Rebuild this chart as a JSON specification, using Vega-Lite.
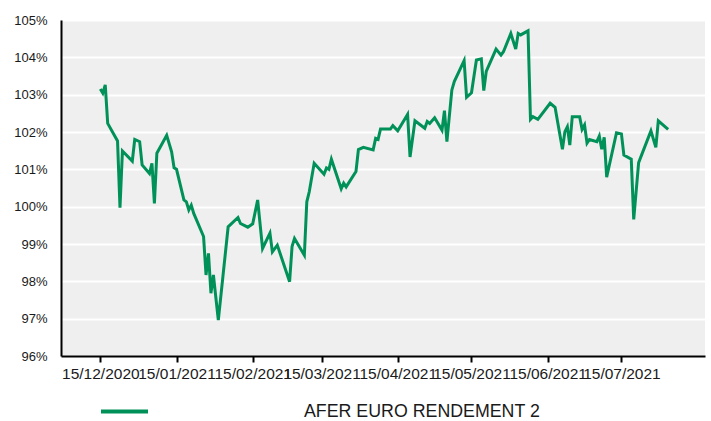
{
  "$schema": "https://vega.github.io/schema/vega-lite/v6.json",
  "autosize": {"type": "none"},
  "padding": {"left": 61, "top": 20, "right": 6, "bottom": 65},
  "width": 644,
  "height": 336,
  "background": "white",
  "config": {
    "view": {"fill": "#EFEFEF", "stroke": null},
    "font": "Liberation Sans"
  },
  "data": {
    "values": [
      {"date": "2020-12-15", "value": 103.15},
      {"date": "2020-12-16", "value": 103.04},
      {"date": "2020-12-17", "value": 103.26},
      {"date": "2020-12-18", "value": 102.23},
      {"date": "2020-12-22", "value": 101.76},
      {"date": "2020-12-23", "value": 99.97},
      {"date": "2020-12-24", "value": 101.49},
      {"date": "2020-12-28", "value": 101.22},
      {"date": "2020-12-29", "value": 101.80},
      {"date": "2020-12-31", "value": 101.74},
      {"date": "2021-01-01", "value": 101.12},
      {"date": "2021-01-04", "value": 100.89},
      {"date": "2021-01-05", "value": 101.16},
      {"date": "2021-01-06", "value": 100.09},
      {"date": "2021-01-07", "value": 101.43},
      {"date": "2021-01-11", "value": 101.91},
      {"date": "2021-01-13", "value": 101.47},
      {"date": "2021-01-14", "value": 101.04},
      {"date": "2021-01-15", "value": 101.00},
      {"date": "2021-01-18", "value": 100.18},
      {"date": "2021-01-19", "value": 100.13},
      {"date": "2021-01-20", "value": 99.91},
      {"date": "2021-01-21", "value": 100.04},
      {"date": "2021-01-22", "value": 99.82},
      {"date": "2021-01-26", "value": 99.20},
      {"date": "2021-01-27", "value": 98.17},
      {"date": "2021-01-28", "value": 98.75},
      {"date": "2021-01-29", "value": 97.68},
      {"date": "2021-01-30", "value": 98.17},
      {"date": "2021-02-01", "value": 96.96},
      {"date": "2021-02-05", "value": 99.46},
      {"date": "2021-02-09", "value": 99.71},
      {"date": "2021-02-10", "value": 99.55},
      {"date": "2021-02-13", "value": 99.45},
      {"date": "2021-02-15", "value": 99.54},
      {"date": "2021-02-17", "value": 100.18},
      {"date": "2021-02-19", "value": 98.88},
      {"date": "2021-02-22", "value": 99.29},
      {"date": "2021-02-23", "value": 98.79},
      {"date": "2021-02-25", "value": 98.97},
      {"date": "2021-03-02", "value": 97.99},
      {"date": "2021-03-03", "value": 98.93},
      {"date": "2021-03-04", "value": 99.15},
      {"date": "2021-03-08", "value": 98.70},
      {"date": "2021-03-09", "value": 100.13},
      {"date": "2021-03-10", "value": 100.40},
      {"date": "2021-03-12", "value": 101.16},
      {"date": "2021-03-16", "value": 100.87},
      {"date": "2021-03-17", "value": 101.04},
      {"date": "2021-03-18", "value": 101.00},
      {"date": "2021-03-19", "value": 101.27},
      {"date": "2021-03-23", "value": 100.48},
      {"date": "2021-03-24", "value": 100.63},
      {"date": "2021-03-25", "value": 100.53},
      {"date": "2021-03-29", "value": 100.94},
      {"date": "2021-03-30", "value": 101.53},
      {"date": "2021-04-01", "value": 101.59},
      {"date": "2021-04-05", "value": 101.52},
      {"date": "2021-04-06", "value": 101.83},
      {"date": "2021-04-07", "value": 101.80},
      {"date": "2021-04-08", "value": 102.08},
      {"date": "2021-04-12", "value": 102.08},
      {"date": "2021-04-13", "value": 102.17},
      {"date": "2021-04-15", "value": 102.03},
      {"date": "2021-04-19", "value": 102.47},
      {"date": "2021-04-20", "value": 101.33},
      {"date": "2021-04-22", "value": 102.30},
      {"date": "2021-04-26", "value": 102.10},
      {"date": "2021-04-27", "value": 102.28},
      {"date": "2021-04-28", "value": 102.23},
      {"date": "2021-04-30", "value": 102.38},
      {"date": "2021-05-03", "value": 102.05},
      {"date": "2021-05-04", "value": 102.57},
      {"date": "2021-05-05", "value": 101.74},
      {"date": "2021-05-07", "value": 103.12},
      {"date": "2021-05-08", "value": 103.35},
      {"date": "2021-05-12", "value": 103.91},
      {"date": "2021-05-13", "value": 102.93},
      {"date": "2021-05-15", "value": 103.05},
      {"date": "2021-05-17", "value": 103.93},
      {"date": "2021-05-19", "value": 103.96},
      {"date": "2021-05-20", "value": 103.11},
      {"date": "2021-05-21", "value": 103.62},
      {"date": "2021-05-25", "value": 104.22},
      {"date": "2021-05-27", "value": 104.06},
      {"date": "2021-05-28", "value": 104.15},
      {"date": "2021-05-31", "value": 104.64},
      {"date": "2021-06-02", "value": 104.22},
      {"date": "2021-06-03", "value": 104.64},
      {"date": "2021-06-04", "value": 104.60},
      {"date": "2021-06-07", "value": 104.71},
      {"date": "2021-06-08", "value": 102.34},
      {"date": "2021-06-09", "value": 102.41},
      {"date": "2021-06-11", "value": 102.34},
      {"date": "2021-06-16", "value": 102.77},
      {"date": "2021-06-18", "value": 102.66},
      {"date": "2021-06-21", "value": 101.54},
      {"date": "2021-06-22", "value": 102.01},
      {"date": "2021-06-23", "value": 102.14},
      {"date": "2021-06-24", "value": 101.65},
      {"date": "2021-06-25", "value": 102.41},
      {"date": "2021-06-28", "value": 102.41},
      {"date": "2021-06-29", "value": 102.07},
      {"date": "2021-06-30", "value": 102.19},
      {"date": "2021-07-01", "value": 101.70},
      {"date": "2021-07-02", "value": 101.80},
      {"date": "2021-07-05", "value": 101.74},
      {"date": "2021-07-06", "value": 101.89},
      {"date": "2021-07-07", "value": 101.54},
      {"date": "2021-07-08", "value": 101.86},
      {"date": "2021-07-09", "value": 100.79},
      {"date": "2021-07-13", "value": 101.98},
      {"date": "2021-07-15", "value": 101.95},
      {"date": "2021-07-16", "value": 101.38},
      {"date": "2021-07-19", "value": 101.27},
      {"date": "2021-07-20", "value": 99.66},
      {"date": "2021-07-22", "value": 101.18},
      {"date": "2021-07-27", "value": 102.03},
      {"date": "2021-07-29", "value": 101.59},
      {"date": "2021-07-30", "value": 102.30},
      {"date": "2021-08-03", "value": 102.07}
    ]
  },
  "mark": {"type": "line", "strokeWidth": 3, "interpolate": "linear"},
  "encoding": {
    "x": {
      "field": "date",
      "type": "temporal",
      "scale": {"type": "utc", "domain": [{"year": 2020, "month": 11, "date": 29, "utc": true}, {"year": 2021, "month": 8, "date": 18, "utc": true}], "nice": false},
      "axis": {
        "title": null,
        "grid": false,
        "values": [
          {"year": 2020, "month": 12, "date": 15, "utc": true},
          {"year": 2021, "month": 1, "date": 15, "utc": true},
          {"year": 2021, "month": 2, "date": 15, "utc": true},
          {"year": 2021, "month": 3, "date": 15, "utc": true},
          {"year": 2021, "month": 4, "date": 15, "utc": true},
          {"year": 2021, "month": 5, "date": 15, "utc": true},
          {"year": 2021, "month": 6, "date": 15, "utc": true},
          {"year": 2021, "month": 7, "date": 15, "utc": true}
        ],
        "format": "%d/%m/%Y",
        "labelOverlap": false,
        "labelFontSize": 15.5,
        "labelColor": "#1a1a1a",
        "labelPadding": 4,
        "labelDx": 3,
        "domainColor": "black",
        "domainWidth": 2,
        "tickColor": "black",
        "tickWidth": 2,
        "tickSize": 6
      }
    },
    "y": {
      "field": "value",
      "type": "quantitative",
      "scale": {"domain": [96, 105], "nice": false, "zero": false},
      "axis": {
        "title": null,
        "values": [96, 97, 98, 99, 100, 101, 102, 103, 104, 105],
        "labelExpr": "datum.value + '%'",
        "grid": true,
        "gridColor": "white",
        "gridWidth": 2,
        "ticks": false,
        "domainColor": "black",
        "domainWidth": 2,
        "labelFontSize": 13,
        "labelColor": "#1a1a1a",
        "labelPadding": 14
      }
    },
    "color": {
      "datum": "AFER EURO RENDEMENT 2",
      "type": "nominal",
      "scale": {"range": ["#009159"]},
      "legend": {
        "title": null,
        "orient": "none",
        "legendX": 38,
        "legendY": 366,
        "padding": 0,
        "symbolType": "stroke",
        "symbolSize": 2209,
        "symbolStrokeWidth": 4,
        "labelOffset": 154,
        "labelFontSize": 17.8,
        "labelColor": "#1a1a1a",
        "labelLimit": 400
      }
    }
  }
}
